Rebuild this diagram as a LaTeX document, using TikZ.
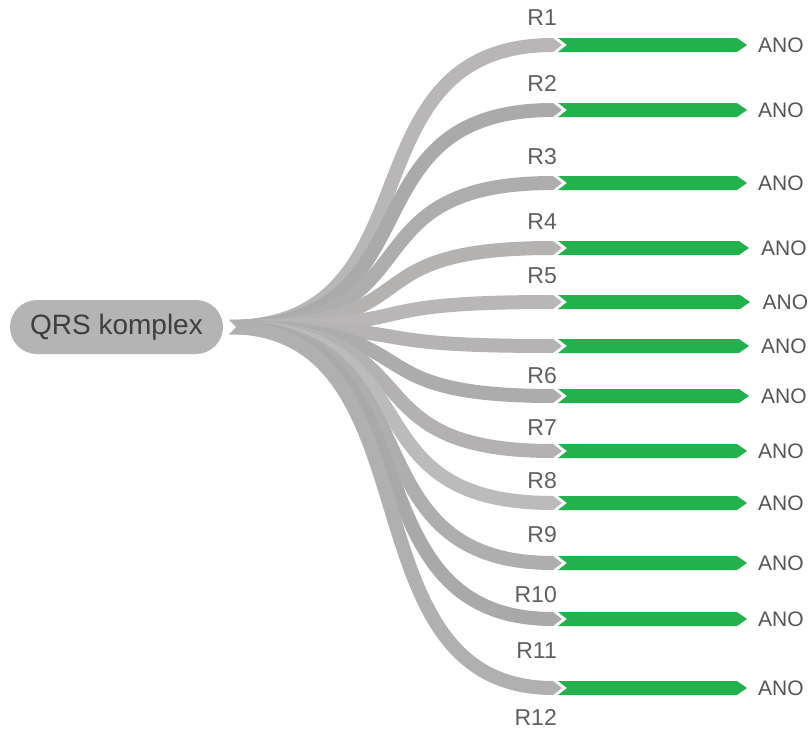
\documentclass[tikz,border=0pt]{standalone}
\usepackage{fontspec}
\setmainfont{Liberation Sans}
\definecolor{grn}{RGB}{35,177,77}
\definecolor{rootfill}{RGB}{180,180,180}
\definecolor{roottext}{RGB}{62,62,62}
\definecolor{labtext}{RGB}{95,95,95}
\definecolor{anotext}{RGB}{85,85,85}
\definecolor{ga}{RGB}{184,182,183}
\definecolor{gb}{RGB}{170,170,170}
\definecolor{gc}{RGB}{173,173,173}
\definecolor{gd}{RGB}{181,178,178}
\definecolor{ge}{RGB}{184,182,182}
\definecolor{gf}{RGB}{181,179,179}
\definecolor{gg}{RGB}{172,172,172}
\definecolor{gh}{RGB}{179,177,177}
\definecolor{gi}{RGB}{187,187,187}
\definecolor{gj}{RGB}{174,174,174}
\definecolor{gk}{RGB}{169,169,169}
\definecolor{gl}{RGB}{176,176,176}
\tikzset{
  rootnode/.style={fill=rootfill, rounded corners=27pt, minimum width=213pt,
    minimum height=54pt, inner sep=0pt, text=roottext,
    font=\fontsize{28}{30}\selectfont},
  branch/.style={line width=14pt, line cap=butt},
  rlabel/.style={anchor=east, inner sep=0pt, text=labtext,
    font=\fontsize{23}{25}\selectfont},
  anolabel/.style={anchor=west, inner sep=0pt, text=anotext,
    font=\fontsize{21}{23}\selectfont},
}
\begin{document}
\begin{tikzpicture}[x=1pt,y=-1pt]
\useasboundingbox (0,0) rectangle (808,731);
\node[rootnode] (root) at (116.5,327) {QRS komplex};
\coordinate (s) at (228,327);
% branches
\foreach \y/\c/\ax [count=\i] in {45/ga/0,110/gb/0,183/gc/0,248/gd/2,302/ge/3,346/gf/2,396/gg/2,451/gh/0,503/gi/0,563/gj/0,619/gk/0,688/gl/0}{
  \coordinate (e\i) at (553,\y);
  \draw[branch, draw=\c] (s) .. controls +(215,0) and +(-215,0) .. (e\i);
  \fill[\c] (e\i) ++(0,-7) -- ++(9,7) -- ++(-9,7) -- cycle;
  \fill[grn] (558,\y-7) -- (737+\ax,\y-7) -- (747+\ax,\y) -- (737+\ax,\y+7)
     -- (558,\y+7) -- (567,\y) -- cycle;
  \node[anolabel] (a\i) at (758+\ax*1.5,\y) {ANO};
}
\fill[white] (227,318) -- (236,327) -- (227,336) -- cycle;
% R labels
\foreach \y [count=\i] in {18,83,157,222,276,376,428,481,535,595,651,717}{
  \node[rlabel] (r\i) at (557,\y) {R\i};
}
\end{tikzpicture}
\end{document}
